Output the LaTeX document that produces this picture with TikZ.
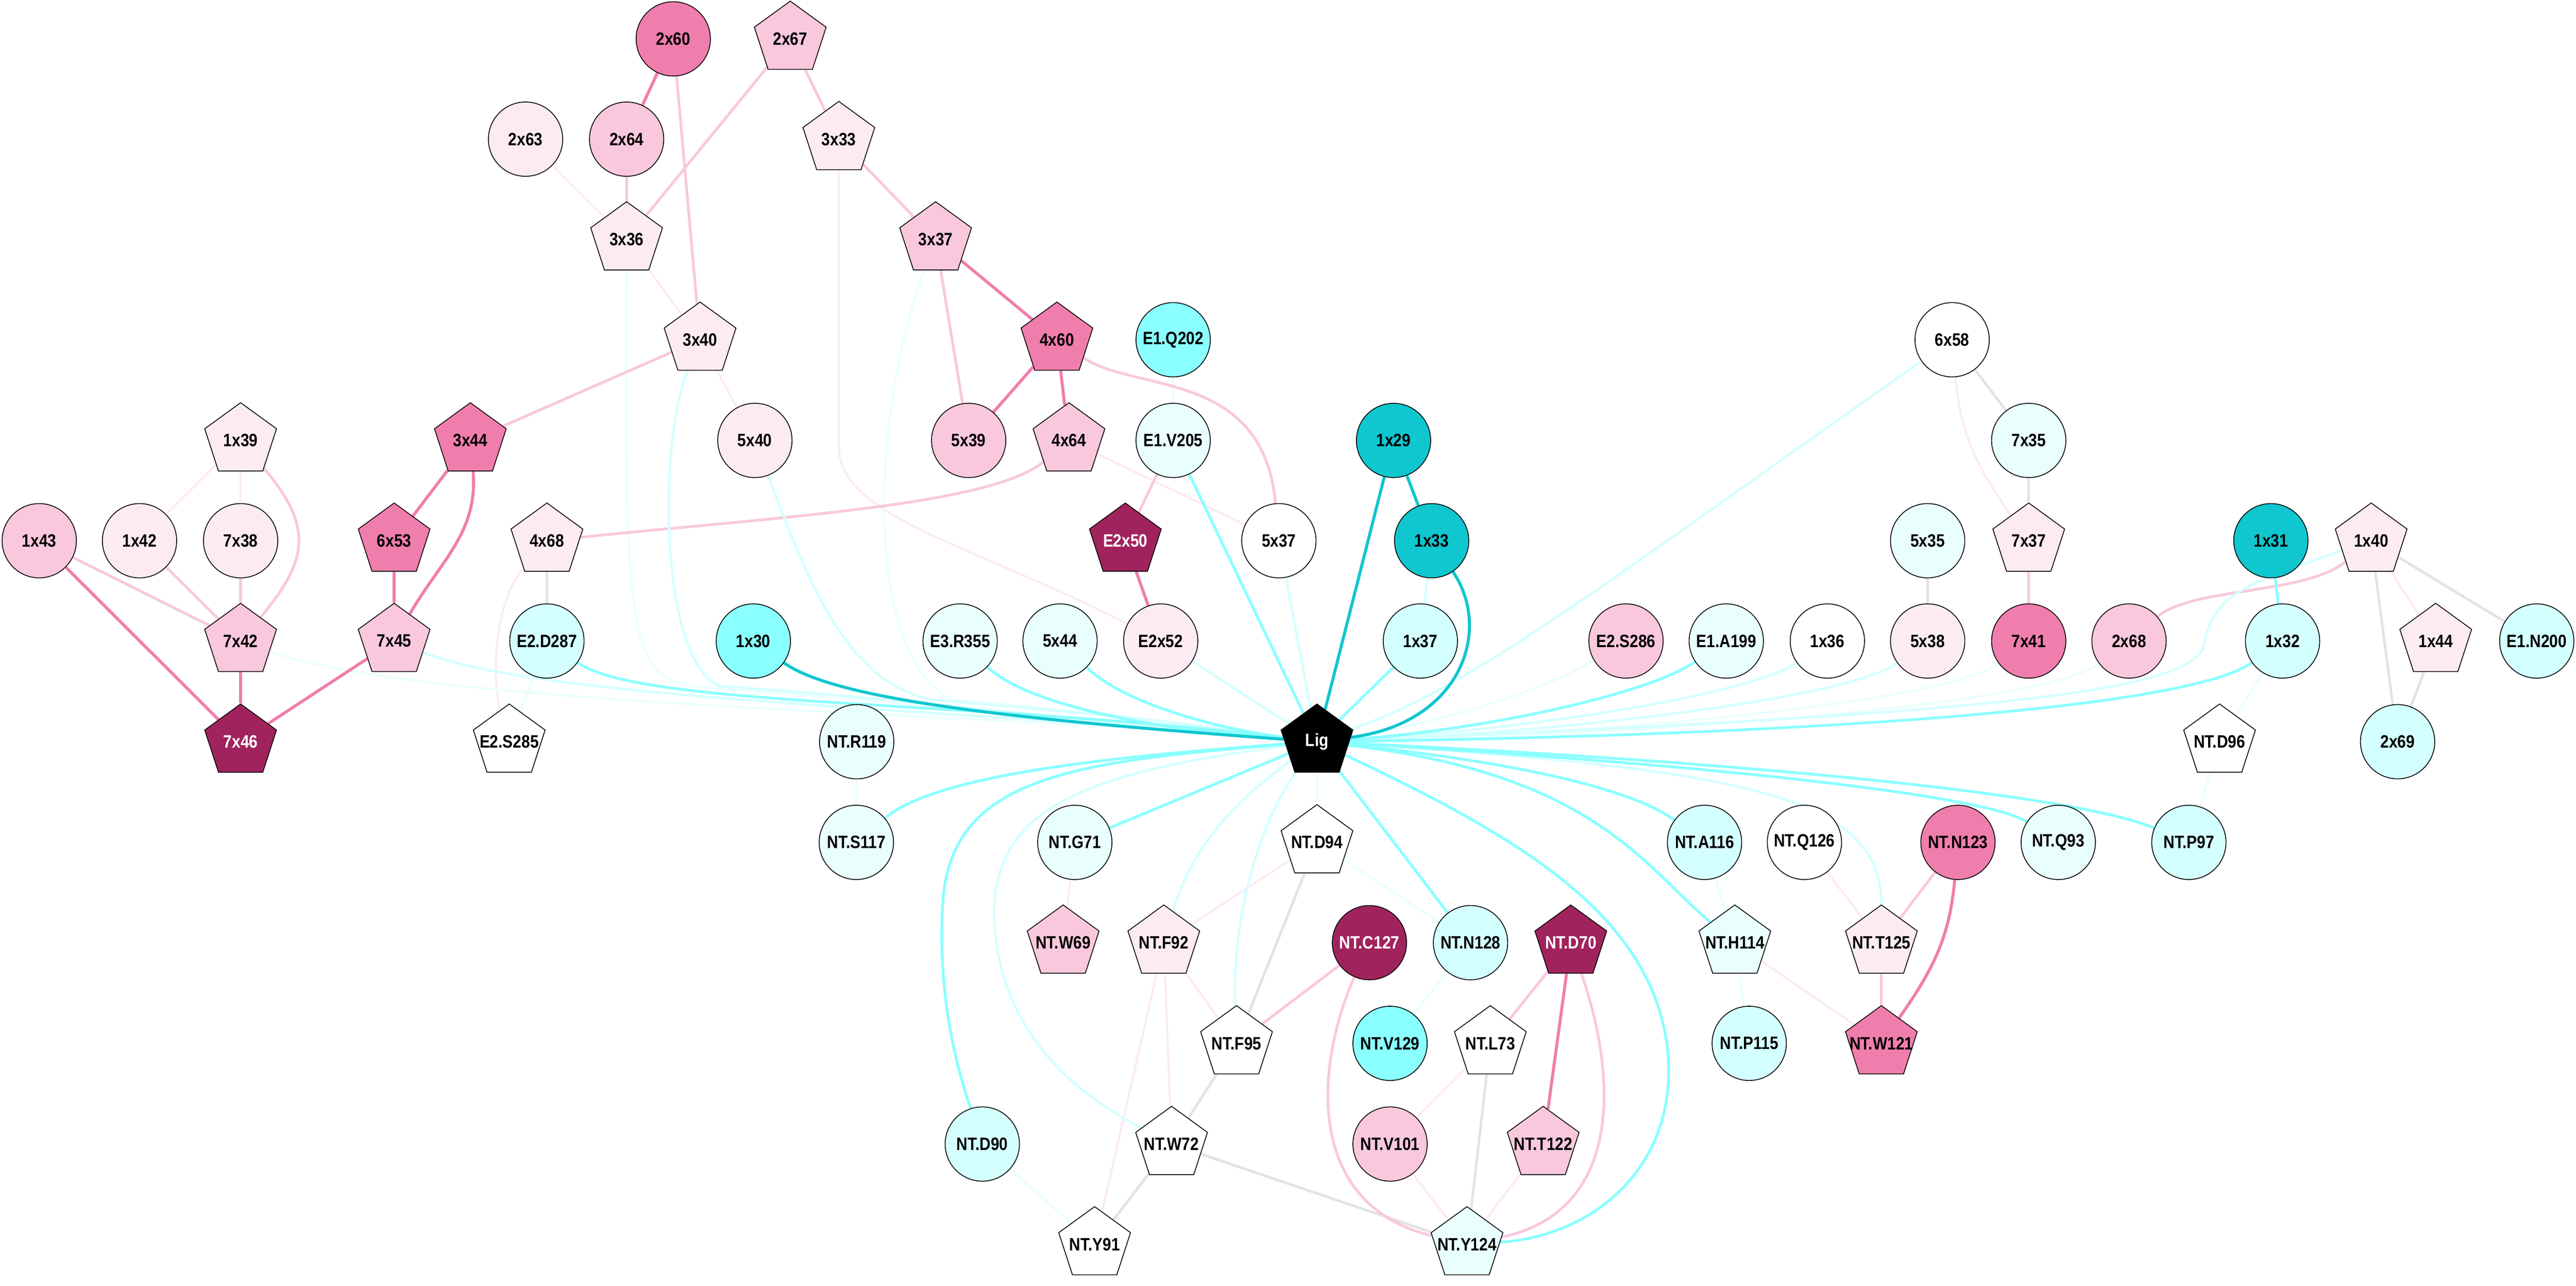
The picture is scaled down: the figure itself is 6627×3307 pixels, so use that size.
\documentclass[tikz,border=0pt]{standalone}
\usepackage{fontspec}
\newfontfamily\lblfont{Liberation Sans}[FakeStretch=0.86]
\usetikzlibrary{shapes.geometric}
\usetikzlibrary{backgrounds}

\definecolor{pinkM}{HTML}{F07EAC}
\definecolor{pinkL}{HTML}{F9C8DC}
\definecolor{pinkVL}{HTML}{FCEBF3}
\definecolor{magD}{HTML}{A1235D}
\definecolor{cyanD}{HTML}{10C6CF}
\definecolor{cyanM}{HTML}{8AFFFF}
\definecolor{cyanL}{HTML}{D4FFFF}
\definecolor{cyanVL}{HTML}{E9FFFD}
\definecolor{grayE}{HTML}{E3E3E3}

\begin{document}
\begin{tikzpicture}[x=0.01cm,y=-0.01cm,
    res/.style={draw=black,line width=0.6pt,inner sep=0pt,font=\lblfont\bfseries\fontsize{13.1}{15}\selectfont},
    circ/.style={res,circle,minimum size=1.91cm},
    pent/.style={res,regular polygon,regular polygon sides=5,minimum size=1.94cm,label={[res,draw=none]center:#1}},
    pentw/.style={res,regular polygon,regular polygon sides=5,minimum size=1.94cm,label={[res,draw=none,text=white]center:#1}},
    pkM/.style={draw=pinkM,line width=2.2pt},
    pkL/.style={draw=pinkL,line width=2pt},
    pkVL/.style={draw=pinkVL,line width=1.6pt},
    cyD/.style={draw=cyanD,line width=2.2pt},
    cyM/.style={draw=cyanM,line width=2pt},
    cyL/.style={draw=cyanL,line width=1.8pt},
    cyVL/.style={draw=cyanVL,line width=1.6pt},
    gr/.style={draw=grayE,line width=1.9pt}]
  \useasboundingbox (0,0) rectangle (6627,3307);

  % ranks 0-3
  \node[circ,fill=pinkM] (r2x60) at (1732,100) {2x60};
  \node[pent=2x67,fill=pinkL] (r2x67) at (2033,100) {};
  \node[circ,fill=pinkVL] (r2x63) at (1352,358) {2x63};
  \node[circ,fill=pinkL] (r2x64) at (1612,358) {2x64};
  \node[pent=3x33,fill=pinkVL] (r3x33) at (2158,358) {};
  \node[pent=3x36,fill=pinkVL] (r3x36) at (1612,616) {};
  \node[pent=3x37,fill=pinkL] (r3x37) at (2407,616) {};
  \node[pent=3x40,fill=pinkVL] (r3x40) at (1801,874) {};
  \node[pent=4x60,fill=pinkM] (r4x60) at (2719,874) {};
  \node[circ,fill=cyanM] (e1Q202) at (3018,874) {E1.Q202};
  \node[circ,fill=white] (r6x58) at (5022,874) {6x58};
  % rank 4
  \node[pent=1x39,fill=pinkVL] (r1x39) at (619,1133) {};
  \node[pent=3x44,fill=pinkM] (r3x44) at (1210,1133) {};
  \node[circ,fill=pinkVL] (r5x40) at (1942,1133) {5x40};
  \node[circ,fill=pinkL] (r5x39) at (2492,1133) {5x39};
  \node[pent=4x64,fill=pinkL] (r4x64) at (2750,1133) {};
  \node[circ,fill=cyanVL] (e1V205) at (3018,1133) {E1.V205};
  \node[circ,fill=cyanD] (r1x29) at (3585,1133) {1x29};
  \node[circ,fill=cyanVL] (r7x35) at (5219,1133) {7x35};
  % rank 5
  \node[circ,fill=pinkL] (r1x43) at (101,1391) {1x43};
  \node[circ,fill=pinkVL] (r1x42) at (359,1391) {1x42};
  \node[circ,fill=pinkVL] (r7x38) at (619,1391) {7x38};
  \node[pent=6x53,fill=pinkM] (r6x53) at (1014,1391) {};
  \node[pent=4x68,fill=pinkVL] (r4x68) at (1407,1391) {};
  \node[pentw=E2x50,fill=magD] (e2x50) at (2895,1391) {};
  \node[circ,fill=white] (r5x37) at (3290,1391) {5x37};
  \node[circ,fill=cyanD] (r1x33) at (3683,1391) {1x33};
  \node[circ,fill=cyanVL] (r5x35) at (4959,1391) {5x35};
  \node[pent=7x37,fill=pinkVL] (r7x37) at (5219,1391) {};
  \node[circ,fill=cyanD] (r1x31) at (5842,1391) {1x31};
  \node[pent=1x40,fill=pinkVL] (r1x40) at (6100,1391) {};
  % rank 6
  \node[pent=7x42,fill=pinkL] (r7x42) at (619,1649) {};
  \node[pent=7x45,fill=pinkL] (r7x45) at (1014,1649) {};
  \node[circ,fill=cyanL] (e2D287) at (1407,1649) {E2.D287};
  \node[circ,fill=cyanM] (r1x30) at (1938,1649) {1x30};
  \node[circ,fill=cyanVL] (e3R355) at (2470,1649) {E3.R355};
  \node[circ,fill=cyanVL] (r5x44) at (2727,1649) {5x44};
  \node[circ,fill=pinkVL] (e2x52) at (2986,1649) {E2x52};
  \node[circ,fill=cyanL] (r1x37) at (3654,1649) {1x37};
  \node[circ,fill=pinkL] (e2S286) at (4183,1649) {E2.S286};
  \node[circ,fill=cyanVL] (e1A199) at (4441,1649) {E1.A199};
  \node[circ,fill=white] (r1x36) at (4701,1649) {1x36};
  \node[circ,fill=pinkVL] (r5x38) at (4959,1649) {5x38};
  \node[circ,fill=pinkM] (r7x41) at (5219,1649) {7x41};
  \node[circ,fill=pinkL] (r2x68) at (5477,1649) {2x68};
  \node[circ,fill=cyanL] (r1x32) at (5872,1649) {1x32};
  \node[pent=1x44,fill=pinkVL] (r1x44) at (6266,1649) {};
  \node[circ,fill=cyanL] (e1N200) at (6526,1649) {E1.N200};
  % rank 7
  \node[pentw=7x46,fill=magD] (r7x46) at (619,1908) {};
  \node[pent=E2.S285,fill=white] (e2S285) at (1310,1908) {};
  \node[circ,fill=cyanVL] (ntR119) at (2204,1908) {NT.R119};
  \node[pentw=Lig,fill=black] (lig) at (3388,1908) {};
  \node[pent=NT.D96,fill=white] (ntD96) at (5710,1908) {};
  \node[circ,fill=cyanL] (r2x69) at (6168,1908) {2x69};
  % rank 8
  \node[circ,fill=cyanVL] (ntS117) at (2203,2167) {NT.S117};
  \node[circ,fill=cyanVL] (ntG71) at (2765,2167) {NT.G71};
  \node[pent=NT.D94,fill=white] (ntD94) at (3388,2167) {};
  \node[circ,fill=cyanL] (ntA116) at (4385,2167) {NT.A116};
  \node[circ,fill=white] (ntQ126) at (4642,2167) {NT.Q126};
  \node[circ,fill=pinkM] (ntN123) at (5037,2167) {NT.N123};
  \node[circ,fill=cyanVL] (ntQ93) at (5295,2167) {NT.Q93};
  \node[circ,fill=cyanL] (ntP97) at (5631,2167) {NT.P97};
  % rank 9
  \node[pent=NT.W69,fill=pinkL] (ntW69) at (2735,2425) {};
  \node[pent=NT.F92,fill=pinkVL] (ntF92) at (2994,2425) {};
  \node[circ,fill=magD,text=white] (ntC127) at (3523,2425) {NT.C127};
  \node[circ,fill=cyanL] (ntN128) at (3783,2425) {NT.N128};
  \node[pentw=NT.D70,fill=magD] (ntD70) at (4041,2425) {};
  \node[pent=NT.H114,fill=cyanVL] (ntH114) at (4463,2425) {};
  \node[pent=NT.T125,fill=pinkVL] (ntT125) at (4840,2425) {};
  % rank 10
  \node[pent=NT.F95,fill=white] (ntF95) at (3181,2684) {};
  \node[circ,fill=cyanM] (ntV129) at (3576,2684) {NT.V129};
  \node[pent=NT.L73,fill=white] (ntL73) at (3834,2684) {};
  \node[circ,fill=cyanL] (ntP115) at (4500,2684) {NT.P115};
  \node[pent=NT.W121,fill=pinkM] (ntW121) at (4840,2684) {};
  % ranks 11-12
  \node[circ,fill=cyanL] (ntD90) at (2527,2943) {NT.D90};
  \node[pent=NT.W72,fill=white] (ntW72) at (3014,2943) {};
  \node[circ,fill=pinkL] (ntV101) at (3576,2943) {NT.V101};
  \node[pent=NT.T122,fill=pinkL] (ntT122) at (3970,2943) {};
  \node[pent=NT.Y91,fill=white] (ntY91) at (2816,3201) {};
  \node[pent=NT.Y124,fill=cyanVL] (ntY124) at (3774,3201) {};

  \begin{scope}[on background layer]
    % faint links
    \foreach \a/\b in {r2x63/r3x36, r3x36/r3x40, r3x40/r5x40, r1x39/r1x42, r1x39/r7x38, r4x64/r5x37, r1x40/r1x44, ntQ126/ntT125, ntH114/ntW121, ntG71/ntW69, ntD94/ntF92, ntF92/ntF95, ntF92/ntW72, ntF92/ntY91, ntL73/ntV101, ntV101/ntY124, ntT122/ntY124}
      \draw[pkVL] (\a) -- (\b);
    \draw[pkVL] (r3x33) -- (2158,1150) .. controls (2160,1330) and (2500,1400) .. (e2x52);
    \draw[pkVL] (r4x68) .. controls (1270,1550) and (1265,1750) .. (e2S285);
    \draw[pkVL] (r6x58) to[out=-85,in=125] (r7x37);
    \foreach \a/\b in {e2D287/e2S285, e1Q202/e1V205, r1x32/ntD96, ntD96/ntP97, ntH114/ntP115, ntA116/ntH114, ntR119/ntS117, ntD94/ntN128, ntN128/ntV129, ntD90/ntY91, lig/ntD94}
      \draw[cyVL] (\a) -- (\b);
    \draw[cyVL] (r7x42) .. controls (1100,1820) and (2500,1830) .. (lig);
    \draw[cyVL] (r3x36) .. controls (1605,1650) and (1620,1750) .. (1800,1768) to[out=-4,in=175] (lig);
    \draw[cyVL] (r3x37) .. controls (2230,1100) and (2230,1700) .. (2450,1800) to[out=-5,in=172] (lig);
    \draw[cyVL] (e2S286) .. controls (3950,1790) and (3650,1870) .. (lig);
    \draw[cyVL] (r7x41) .. controls (5000,1810) and (4100,1890) .. (lig);
    \draw[cyVL] (r2x68) .. controls (5250,1820) and (4200,1890) .. (lig);
    \foreach \a/\b in {r4x68/e2D287, r6x58/r7x35, r7x35/r7x37, r5x35/r5x38, r1x40/r2x69, r1x40/e1N200, r1x44/r2x69, ntD94/ntF95, ntF95/ntW72, ntL73/ntY124, ntW72/ntY91, ntW72/ntY124}
      \draw[gr] (\a) -- (\b);
    % light links
    \foreach \a/\b in {r2x60/r3x40, r2x67/r3x36, r2x67/r3x33, r2x64/r3x36, r3x33/r3x37, r3x37/r5x39, r3x40/r3x44, r1x43/r7x42, r1x42/r7x42, r7x38/r7x42, e1V205/e2x50, r7x37/r7x41, ntN123/ntT125, ntT125/ntW121, ntC127/ntF95, ntD70/ntL73}
      \draw[pkL] (\a) -- (\b);
    \draw[pkL] (r1x39) to[out=-50,in=50,looseness=1.3] (r7x42);
    \draw[pkL] (r4x60) .. controls (2920,1010) and (3250,950) .. (r5x37);
    \draw[pkL] (r4x68) .. controls (2000,1330) and (2550,1300) .. (r4x64);
    \draw[pkL] (r1x40) .. controls (5930,1530) and (5640,1510) .. (r2x68);
    \draw[pkL] (ntC127) .. controls (3380,2750) and (3360,3100) .. (ntY124);
    \draw[pkL] (ntD70) .. controls (4170,2800) and (4160,3120) .. (ntY124);
    \foreach \a/\b in {r1x33/r1x37, e2x52/lig, r5x37/lig}
      \draw[cyL] (\a) -- (\b);
    \draw[cyL] (r7x45) .. controls (1400,1800) and (2400,1820) .. (lig);
    \draw[cyL] (r3x40) .. controls (1690,1150) and (1700,1700) .. (1850,1765) to[out=-4,in=175] (lig);
    \draw[cyL] (r5x40) .. controls (2080,1500) and (2180,1760) .. (2400,1800) to[out=-5,in=172] (lig);
    \draw[cyL] (r6x58) .. controls (4100,1520) and (3800,1760) .. (lig);
    \draw[cyL] (r1x36) .. controls (4500,1790) and (3900,1880) .. (lig);
    \draw[cyL] (r5x38) .. controls (4750,1800) and (4000,1885) .. (lig);
    \draw[cyL] (r1x40) .. controls (5780,1500) and (5690,1530) .. (5670,1660) .. controls (5640,1790) and (5000,1840) .. (lig);
    \draw[cyL] (lig) .. controls (4500,1980) and (4840,2050) .. (ntT125);
    \draw[cyL] (lig) .. controls (3220,2150) and (3170,2400) .. (ntF95);
    \draw[cyL] (lig) .. controls (3150,2080) and (3060,2200) .. (ntF92);
    \draw[cyL] (lig) .. controls (2780,1990) and (2530,2080) .. (2560,2400) .. controls (2590,2700) and (2820,2840) .. (ntW72);
    % strong links
    \foreach \a/\b in {r2x60/r2x64, r3x37/r4x60, r4x60/r5x39, r4x60/r4x64, r3x44/r6x53, r1x43/r7x46, r6x53/r7x45, r7x42/r7x46, r7x45/r7x46, e2x50/e2x52, ntD70/ntT122}
      \draw[pkM] (\a) -- (\b);
    \draw[pkM] (r3x44) to[out=-85,in=60] (r7x45);
    \draw[pkM] (ntN123) to[out=-95,in=55] (ntW121);
    \foreach \a/\b in {r1x31/r1x32, e1V205/lig, r1x37/lig, lig/ntN128, lig/ntG71}
      \draw[cyM] (\a) -- (\b);
    \draw[cyM] (e2D287) .. controls (1650,1820) and (2500,1800) .. (lig);
    \draw[cyM] (e3R355) .. controls (2650,1820) and (3000,1880) .. (lig);
    \draw[cyM] (r5x44) .. controls (2880,1800) and (3100,1870) .. (lig);
    \draw[cyM] (e1A199) .. controls (4230,1790) and (3800,1880) .. (lig);
    \draw[cyM] (r1x32) .. controls (5600,1840) and (4400,1895) .. (lig);
    \draw[cyM] (lig) .. controls (4300,1950) and (5300,2030) .. (ntP97);
    \draw[cyM] (lig) .. controls (4300,1960) and (5100,2040) .. (ntQ93);
    \draw[cyM] (lig) .. controls (3900,1960) and (4200,2030) .. (ntA116);
    \draw[cyM] (lig) .. controls (4100,1990) and (4230,2230) .. (ntH114);
    \draw[cyM] (lig) .. controls (3900,2150) and (4250,2350) .. (4290,2700) .. controls (4320,3000) and (4100,3180) .. (ntY124);
    \draw[cyM] (lig) .. controls (2800,1950) and (2400,2000) .. (ntS117);
    \draw[cyM] (lig) .. controls (2750,1960) and (2440,2000) .. (2425,2330) .. controls (2410,2600) and (2480,2800) .. (ntD90);
    \foreach \a/\b in {r1x29/r1x33, r1x29/lig}
      \draw[cyD] (\a) -- (\b);
    \draw[cyD] (r1x30) .. controls (2150,1800) and (2600,1850) .. (lig);
    \draw[cyD] (r1x33) .. controls (3840,1620) and (3760,1860) .. (lig);
  \end{scope}
\end{tikzpicture}
\end{document}
